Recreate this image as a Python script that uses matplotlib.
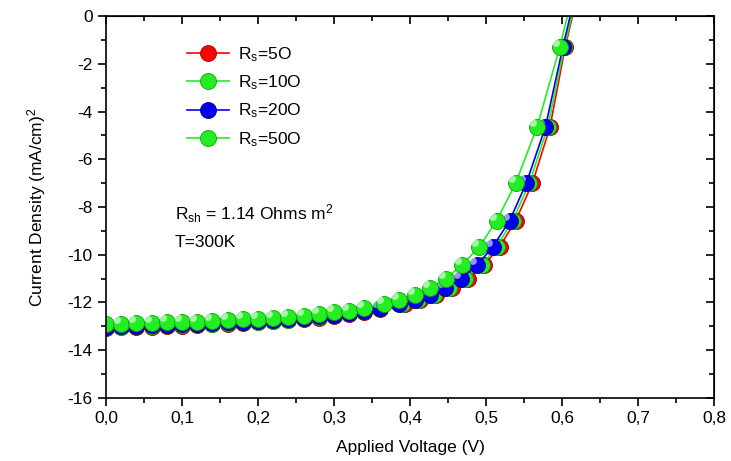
import matplotlib
matplotlib.use('Agg')
import matplotlib.pyplot as plt
from matplotlib.path import Path
from matplotlib.ticker import MultipleLocator, FuncFormatter

plt.rcParams['font.family'] = ['Liberation Sans', 'DejaVu Sans']
plt.rcParams['mathtext.fontset'] = 'custom'
plt.rcParams['mathtext.rm'] = 'Liberation Sans'
plt.rcParams['mathtext.it'] = 'Liberation Sans'

# (V in volts, J in mA/cm2)
v_low = [0.0, 0.02, 0.04, 0.06, 0.08, 0.10, 0.12, 0.14, 0.16, 0.18,
         0.20, 0.22, 0.24, 0.26, 0.28, 0.30, 0.32, 0.34, 0.36]
j_low_50 = [-12.92, -12.90, -12.88, -12.86, -12.84, -12.82, -12.80, -12.77, -12.74, -12.71,
            -12.68, -12.64, -12.60, -12.55, -12.49, -12.42, -12.34, -12.24]
j_low_20 = [-13.02, -13.00, -12.98, -12.96, -12.94, -12.92, -12.90, -12.87, -12.84, -12.81,
            -12.78, -12.74, -12.70, -12.65, -12.59, -12.52, -12.44, -12.34, -12.22]
j_low_10 = [-13.04, -13.02, -13.00, -12.98, -12.96, -12.94, -12.92, -12.89, -12.86, -12.83,
            -12.80, -12.76, -12.72, -12.67, -12.61, -12.54, -12.46, -12.36, -12.25]
j_low_5 = [-13.07, -13.05, -13.03, -13.01, -12.99, -12.97, -12.95, -12.92, -12.89, -12.86,
           -12.83, -12.79, -12.75, -12.70, -12.64, -12.57, -12.49, -12.39, -12.28]

j_high = [-12.05, -11.9, -11.7, -11.4, -11.0, -10.45, -9.66, -8.57, -6.99, -4.65, -1.29, 1.8]
v_high_50 = [0.366, 0.386, 0.406, 0.426, 0.447, 0.468, 0.491, 0.514, 0.539, 0.567, 0.597, 0.621]
v_high_20 = [0.386, 0.406, 0.426, 0.446, 0.467, 0.488, 0.509, 0.531, 0.553, 0.578, 0.601, 0.624]
v_high_10 = [0.390, 0.410, 0.431, 0.451, 0.472, 0.494, 0.514, 0.535, 0.557, 0.581, 0.603, 0.626]
v_high_5 = [0.393, 0.413, 0.434, 0.455, 0.476, 0.497, 0.518, 0.539, 0.561, 0.584, 0.604, 0.627]

series = [
    ('R$_\\mathregular{s}$=5O', v_low + v_high_5, j_low_5 + j_high, '#ff0000', '#a00000'),
    ('R$_\\mathregular{s}$=10O', v_low + v_high_10, j_low_10 + j_high, '#22ee22', '#10a010'),
    ('R$_\\mathregular{s}$=20O', v_low + v_high_20, j_low_20 + j_high, '#0000ee', '#000080'),
    ('R$_\\mathregular{s}$=50O', v_low[:-1] + v_high_50, j_low_50 + j_high, '#22ee22', '#10a010'),
]

# small offset circle used as a shine spot on each ball
circ = Path.circle(center=(-0.28, 0.28), radius=0.24)

fig = plt.figure(figsize=(7.31, 4.61), dpi=100)
ax = fig.add_axes([0.145, 0.137, 0.832, 0.828])

for label, v, j, c, ec in series:
    ax.plot(v, j, '-', color=c, lw=1.2, marker='o', ms=11.5, mfc=c, mec=ec, mew=0.6, label=label)
    ax.plot(v, j, ls='none', marker=circ, ms=11.5, mfc='white', mec='none', alpha=0.6)

ax.set_xlim(0, 0.8)
ax.set_ylim(-16, 0)
ax.xaxis.set_major_locator(MultipleLocator(0.1))
ax.xaxis.set_minor_locator(MultipleLocator(0.05))
ax.yaxis.set_major_locator(MultipleLocator(2))
ax.yaxis.set_minor_locator(MultipleLocator(1))
ax.xaxis.set_major_formatter(FuncFormatter(lambda x, p: ('%.1f' % x).replace('.', ',')))
ax.yaxis.set_major_formatter(FuncFormatter(lambda y, p: '%d' % round(y)))
ax.tick_params(which='both', direction='out', labelsize=12.5, width=1.2)
ax.tick_params(which='major', length=6)
ax.tick_params(which='minor', length=3.5)
# inward ticks on top / right
ax2 = ax.secondary_xaxis('top')
ax2.xaxis.set_major_locator(MultipleLocator(0.1))
ax2.xaxis.set_minor_locator(MultipleLocator(0.05))
ax2.tick_params(which='both', direction='in', labeltop=False, width=1.2)
ax2.tick_params(which='major', length=6)
ax2.tick_params(which='minor', length=3.5)
ay2 = ax.secondary_yaxis('right')
ay2.yaxis.set_major_locator(MultipleLocator(2))
ay2.yaxis.set_minor_locator(MultipleLocator(1))
ay2.tick_params(which='both', direction='in', labelright=False, width=1.2)
ay2.tick_params(which='major', length=6)
ay2.tick_params(which='minor', length=3.5)
for s in ax.spines.values():
    s.set_linewidth(1.2)

ax.set_xlabel('Applied Voltage (V)', fontsize=12.5, labelpad=10)
ax.set_ylabel('Current Density (mA/cm)$^\\mathregular{2}$', fontsize=12.5, labelpad=14)

leg = ax.legend(loc='upper left', bbox_to_anchor=(0.108, 0.965), frameon=False, fontsize=12.5,
                handlelength=2.4, labelspacing=0.55, handletextpad=0.5)

ax.text(0.113, 0.466, 'R$_\\mathregular{sh}$ = 1.14 Ohms m$^\\mathregular{2}$', transform=ax.transAxes, fontsize=12.5)
ax.text(0.113, 0.395, 'T=300K', transform=ax.transAxes, fontsize=12.5)

fig.savefig('out.png', dpi=100)
